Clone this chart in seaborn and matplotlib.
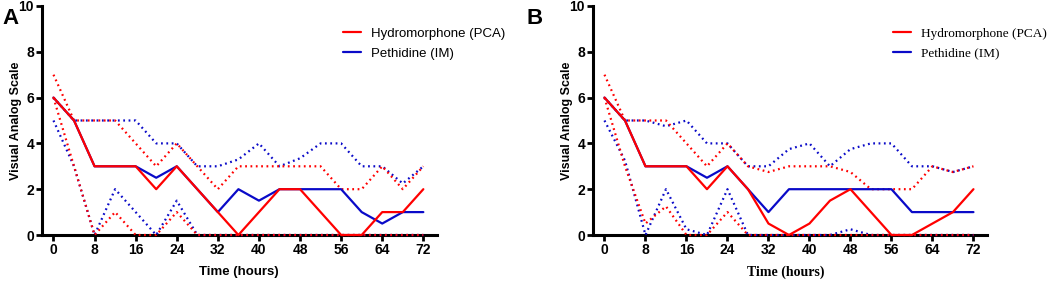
import matplotlib
matplotlib.use("Agg")
from matplotlib import pyplot as plt
import pandas as pd
import seaborn as sns

hours = [0, 4, 8, 12, 16, 20, 24, 28, 32, 36, 40, 44, 48, 52, 56, 60, 64, 68, 72]
x_ticks = [0, 8, 16, 24, 32, 40, 48, 56, 64, 72]
y_ticks = [0, 2, 4, 6, 8, 10]

# panel A
hydro_med_a = [6, 5, 3, 3, 3, 2, 3, 2, 1, 0, 1, 2, 2, 1, 0, 0, 1, 1, 2]
hydro_hi_a = [7, 5, 5, 5, 4, 3, 4, 3, 2, 3, 3, 3, 3, 3, 2, 2, 3, 2, 3]
hydro_lo_a = [6, 3, 0, 1, 0, 0, 1, 0, 0, 0, 0, 0, 0, 0, 0, 0, 0, 0, 0]
peth_med_a = [6, 5, 3, 3, 3, 2.5, 3, 2, 1, 2, 1.5, 2, 2, 2, 2, 1, 0.5, 1, 1]
peth_hi_a = [6, 5, 5, 5, 5, 4, 4, 3, 3, 3.3, 4, 3, 3.35, 4, 4, 3, 3, 2.25, 3]
peth_lo_a = [5, 3, 0, 2, 1, 0, 1.5, 0, 0, 0, 0, 0, 0, 0, 0, 0, 0, 0, 0]

# panel B
hydro_med_b = [6, 5, 3, 3, 3, 2, 3, 2, 0.5, 0, 0.5, 1.5, 2, 1, 0, 0, 0.5, 1, 2]
hydro_hi_b = [7, 5, 5, 5, 4, 3, 4, 3, 2.75, 3, 3, 3, 2.75, 2, 2, 2, 3, 2.75, 3]
hydro_lo_b = [6, 3, 0.5, 1.25, 0, 0, 1, 0, 0, 0, 0, 0, 0, 0, 0, 0, 0, 0, 0]
peth_med_b = [6, 5, 3, 3, 3, 2.5, 3, 2, 1, 2, 2, 2, 2, 2, 2, 1, 1, 1, 1]
peth_hi_b = [6, 5, 5, 4.75, 5, 4, 4, 3, 3, 3.75, 4, 3, 3.75, 4, 4, 3, 3, 2.75, 3]
peth_lo_b = [5, 3.25, 0, 2, 0.25, 0, 2, 0, 0, 0, 0, 0, 0.25, 0, 0, 0, 0, 0, 0]

RED = "#ff0000"
BLUE = "#0a0ac8"
SANS = "Liberation Sans"
SERIF = "Liberation Serif"

sns.set_style("ticks", {"axes.edgecolor": "black", "xtick.color": "black",
                        "ytick.color": "black", "text.color": "black",
                        "axes.labelcolor": "black"})
plt.rcParams["font.family"] = [SANS, "DejaVu Sans"]


def draw_panel(ax, hydro, peth, label_font):
    """Draw median (solid) and range (dotted) lines for both groups."""
    df = pd.DataFrame({"hours": hours,
                       "h_med": hydro[0], "h_hi": hydro[1], "h_lo": hydro[2],
                       "p_med": peth[0], "p_hi": peth[1], "p_lo": peth[2]})
    for col, color in [("p_hi", BLUE), ("p_lo", BLUE), ("h_hi", RED), ("h_lo", RED)]:
        sns.lineplot(data=df, x="hours", y=col, ax=ax, color=color, lw=1.6,
                     linestyle=(0, (0.8, 1.6)), clip_on=False, zorder=3)
    sns.lineplot(data=df, x="hours", y="p_med", ax=ax, color=BLUE, lw=1.6,
                 label="Pethidine (IM)", clip_on=False, zorder=4)
    sns.lineplot(data=df, x="hours", y="h_med", ax=ax, color=RED, lw=1.6,
                 label="Hydromorphone (PCA)", clip_on=False, zorder=5)

    ax.set_xlim(-2.3, 74.6)
    ax.set_ylim(0, 10)
    ax.set_xticks(x_ticks)
    ax.set_yticks(y_ticks)
    sns.despine(ax=ax)
    for s in ["left", "bottom"]:
        ax.spines[s].set_linewidth(2.2)
        ax.spines[s].set_color("black")
    ax.tick_params(width=2.0, length=4, labelsize=10, pad=1.5, colors="black")
    for t in ax.get_xticklabels() + ax.get_yticklabels():
        t.set_fontweight("bold")
        t.set_family(SANS)
    ax.set_ylabel("Visual Analog Scale", fontsize=9, fontweight="bold", family=SANS)
    ax.yaxis.set_label_coords(-0.05, 0.5)
    serif = label_font == SERIF
    ax.set_xlabel("Time (hours)", fontsize=10 if serif else 9.5,
                  fontweight="bold", family=label_font)
    ax.xaxis.set_label_coords(0.49 if serif else 0.5, -0.135)

    handles, labels = ax.get_legend_handles_labels()
    leg = ax.legend(handles[::-1], labels[::-1], loc="upper left",
                    bbox_to_anchor=(0.762, 0.907), frameon=False,
                    prop={"family": label_font, "size": 9.5},
                    handlelength=1.4, handletextpad=0.75, labelspacing=0.6,
                    borderaxespad=0, borderpad=0)
    for line in leg.get_lines():
        line.set_linewidth(1.6)


fig = plt.figure(figsize=(10.52, 2.81), dpi=100)
ax_a = fig.add_axes([0.0396, 0.1637, 0.3755, 0.815])
ax_b = fig.add_axes([0.5634, 0.1637, 0.3746, 0.815])

draw_panel(ax_a, (hydro_med_a, hydro_hi_a, hydro_lo_a),
           (peth_med_a, peth_hi_a, peth_lo_a), SANS)
draw_panel(ax_b, (hydro_med_b, hydro_hi_b, hydro_lo_b),
           (peth_med_b, peth_hi_b, peth_lo_b), SERIF)

fig.text(0.002, 0.97, "A", fontsize=16, fontweight="bold", va="top", family=SANS)
fig.text(0.500, 0.97, "B", fontsize=16, fontweight="bold", va="top", family=SANS)

fig.savefig("out.png", dpi=100)
